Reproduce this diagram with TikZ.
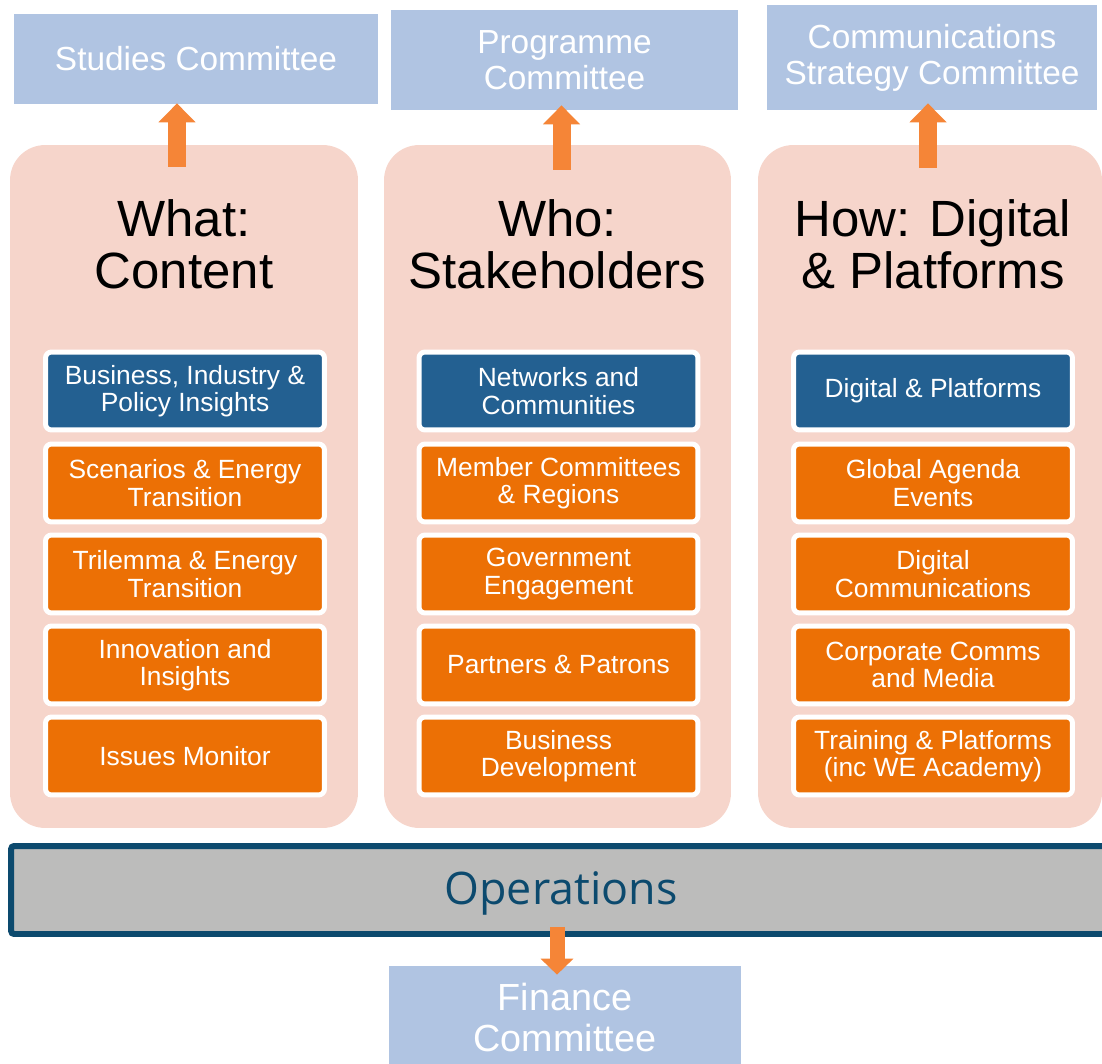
\documentclass[tikz,border=0pt]{standalone}
\usepackage{fontspec}
\setmainfont{Liberation Sans}
\newfontfamily\opsfont{Open Sans}
\usepackage{tikz}
\usetikzlibrary{arrows.meta}
\usetikzlibrary{shapes}

\definecolor{cttblue}{RGB}{176,196,226}
\definecolor{colpink}{RGB}{246,213,203}
\definecolor{unitnavy}{RGB}{35,96,145}
\definecolor{unitorange}{RGB}{236,112,5}
\definecolor{opsgrey}{RGB}{188,188,187}
\definecolor{opsblue}{RGB}{12,74,110}
\definecolor{arrorange}{RGB}{245,133,55}

\tikzset{
  committee/.style={fill=cttblue, draw=none, text=white, align=center,
    inner sep=0pt, font=\fontsize{19}{20.5}\selectfont},
  column/.style={fill=colpink, draw=none, rounded corners=0.7cm},
  coltitle/.style={align=center, inner sep=0pt, font=\fontsize{29}{29.5}\selectfont},
  unit/.style={draw=white, line width=0.1cm, rounded corners=0.12cm,
    minimum width=5.58cm, minimum height=1.56cm, text=white, align=center,
    inner sep=0pt, font=\fontsize{15}{15.5}\selectfont},
  lead/.style={unit, fill=unitnavy},
  team/.style={unit, fill=unitorange},
  bigarrow/.style={draw=arrorange, line width=0.36cm,
    -{Triangle[width=0.72cm,length=0.38cm]}},
}

\begin{document}
\begin{tikzpicture}[x=0.02cm, y=-0.02cm]
    \useasboundingbox (0,0) rectangle (1102,1064);

    % committees on top
    \node[committee, minimum width=7.28cm, minimum height=1.8cm] (studies) at (196,59) {Studies Committee};
    \node[committee, minimum width=6.94cm, minimum height=2.0cm] (programme) at (564.5,60) {Programme\\Committee};
    \node[committee, minimum width=6.6cm, minimum height=2.1cm] (comms) at (932,57.5) {Communications\\Strategy Committee};

    % the three columns
    \node[column, minimum width=6.96cm, minimum height=13.66cm] (what) at (184,486.5) {};
    \node[column, minimum width=6.94cm, minimum height=13.66cm] (who) at (557.5,486.5) {};
    \node[column, minimum width=6.88cm, minimum height=13.66cm] (how) at (930,486.5) {};

    \node[coltitle] (whatT) at (184,244) {What:\\Content};
    \node[coltitle] (whoT) at (557.5,244) {Who:\\Stakeholders};
    \node[coltitle] (howT) at (933,244) {How: Digital\\\& Platforms};

    % What: Content
    \node[lead] (content1) at (185,391) {Business, Industry \&\\Policy Insights};
    \node[team] (content2) at (185,483) {Scenarios \& Energy\\Transition};
    \node[team] (content3) at (185,574) {Trilemma \& Energy\\Transition};
    \node[team] (content4) at (185,665) {Innovation and\\Insights};
    \node[team] (content5) at (185,756) {Issues Monitor};

    % Who: Stakeholders
    \node[lead] (stake1) at (558.5,391) {Networks and\\Communities};
    \node[team] (stake2) at (558.5,483) {Member Committees\\\& Regions};
    \node[team] (stake3) at (558.5,574) {Government\\Engagement};
    \node[team] (stake4) at (558.5,665) {Partners \& Patrons};
    \node[team] (stake5) at (558.5,756) {Business\\Development};

    % How: Digital & Platforms
    \node[lead] (digital1) at (933,391) {Digital \& Platforms};
    \node[team] (digital2) at (933,483) {Global Agenda\\Events};
    \node[team] (digital3) at (933,574) {Digital\\Communications};
    \node[team] (digital4) at (933,665) {Corporate Comms\\and Media};
    \node[team] (digital5) at (933,756) {Training \& Platforms\\(inc WE Academy)};

    % operations bar and finance
    \node[fill=opsgrey, draw=opsblue, line width=0.12cm, rounded corners=0.06cm,
      minimum width=22.08cm, minimum height=1.76cm] (ops) at (563,890) {};
    \node[text=opsblue, font=\opsfont\fontsize{25.5}{26}\selectfont] (opsT) at (561,893) {Operations};
    \node[committee, minimum width=7.04cm, minimum height=2.06cm,
      font=\fontsize{21.5}{22.8}\selectfont] (finance) at (565,1017.5) {Finance\\Committee};

    % arrows
    \draw[bigarrow] ([shift={(-7,22)}]what.north) -- ([shift={(-19,-1)}]studies.south);
    \draw[bigarrow] ([shift={(4,25)}]who.north) -- ([shift={(-3,-5)}]programme.south);
    \draw[bigarrow] ([shift={(-2,23)}]how.north) -- ([shift={(-4,-7)}]comms.south);
    \draw[bigarrow, line width=0.3cm, -{Triangle[width=0.64cm,length=0.32cm]}]
      ([shift={(-6,-10)}]ops.south) -- ([shift={(-8,9)}]finance.north);
\end{tikzpicture}
\end{document}
